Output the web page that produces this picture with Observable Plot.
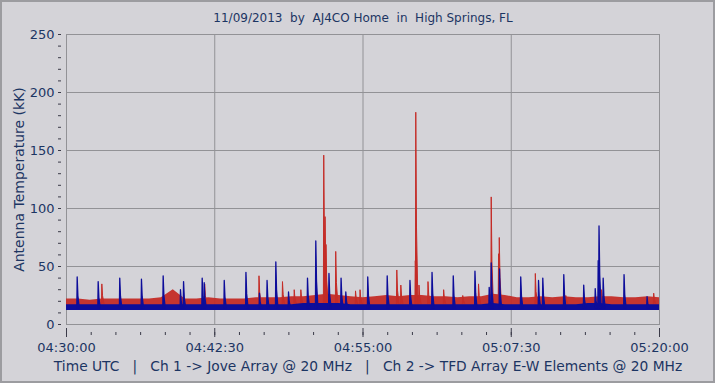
<!DOCTYPE html>
<html><head><meta charset="utf-8">
<script src="https://cdn.jsdelivr.net/npm/d3@7"></script>
<script src="https://cdn.jsdelivr.net/npm/@observablehq/plot@0.6"></script>
<style>
html,body{margin:0;padding:0;background:#d4d3d8;}
#wrap{position:relative;width:715px;height:383px;overflow:hidden;}
#border{position:absolute;left:0;top:0;width:715px;height:383px;box-sizing:border-box;border:2px solid #9c9ca0;pointer-events:none;}
svg{display:block;}
</style></head><body><div id="wrap"><div id="border"></div></div>
<script>
// ---- text ----
const title = "11/09/2013  by  AJ4CO Home  in  High Springs, FL";
const yTitle = "Antenna Temperature (kK)";
const caption = "Time UTC   |   Ch 1 -> Jove Array @ 20 MHz   |   Ch 2 -> TFD Array E-W Elements @ 20 MHz";

// ---- axes (x in minutes after 04:30:00 UTC) ----
const xMajor = [0, 12.5, 25, 37.5, 50];
const xLabels = ["04:30:00", "04:42:30", "04:55:00", "05:07:30", "05:20:00"];
const xMinor = d3.range(0, 50.001, 25 / 12);
const yMajor = [0, 50, 100, 150, 200, 250];
const yMinor = d3.range(0, 251, 10);

// ---- noise envelope, one sample per minute ----
const envT = d3.range(0, 51);
const redHi = [22,22,21,22,22,22,22,22, 23,30,22, 22,23,22,22,22,23,23,23,24,
               24,25,26,25,24,23,24,25,24,25, 25,24,24,23,24,24,26,25,23,23,
               24,23,24,23,23,24,24,23,23,24,23];
const redLo = envT.map(() => 15);
const blueHi = [17,17,17,17,17,17,17,17,17,17,17,17,17,17,17,17,17,17,17,17,
                18,18,18,18,17,17,17,17,17,17,17,17,17,17,17,17,18,17,17,17,
                17,17,17,17,18,18,17,17,17,17,17];
const blueLo = envT.map(() => 12);

// ---- bursts: Ch 1 (red) and Ch 2 (blue) ----
const redT = [2.98,11.65,16.23,18.21,19.20,19.76,21.69,21.80,21.88,22.70,24.37,24.75,27.85,28.19,
              29.41,29.45,29.72,30.48,31.80,33.41,34.74,35.81,36.43,36.49,39.53,42.10,45.11,49.51];
const redV = [35,35,42,37,30,30,146,93,69,63,29,30,47,34,55,183,34,37,30,25,35,110,61,75,44,25,30,27];
const blueT = [0.90,2.67,4.49,6.32,8.15,9.61,9.87,11.44,11.61,13.30,15.13,16.27,16.91,17.65,18.72,
               20.32,21.02,22.13,23.15,23.55,25.40,27.04,28.96,30.82,32.61,34.44,35.64,35.81,36.51,
               38.30,39.80,40.16,41.93,43.61,44.58,44.83,44.90,45.25,47.01,48.95];
const blueV = [41,37,40,39,42,30,37,40,36,38,45,27,38,54,28,40,72,44,40,28,41,42,38,45,42,46,32,53,48,
               41,38,40,43,34,31,55,85,40,43,24];

const RED = "#c42c27", BLUE = "#0d0d9a", NAVY = "#1c3563", GRID = "#929296", TICK = "#3a3a48";

const env = envT.map((t, i) => ({t, rlo: redLo[i], rhi: redHi[i], blo: blueLo[i], bhi: blueHi[i]}));
function spikes(T, V, base) {
  const rows = [];
  T.forEach((t, i) => {
    const v = V[i];
    rows.push({id: i, t: t - 0.03, v: base});
    rows.push({id: i, t: t, v: v});
    rows.push({id: i, t: t + 0.06, v: base + (v - base) * 0.4});
    rows.push({id: i, t: t + 0.18, v: base});
  });
  return rows;
}
const redS = spikes(redT, redV, 18);
const blueS = spikes(blueT, blueV, 14);

const chart = Plot.plot({
  width: 715, height: 383,
  marginTop: 34, marginBottom: 59, marginLeft: 66, marginRight: 56,
  style: {background: "#d4d3d8", fontFamily: "'DejaVu Sans', sans-serif", fontSize: "13px", color: NAVY, overflow: "visible"},
  x: {domain: [0, 50], label: null},
  y: {domain: [0, 250], label: null},
  marks: [
    Plot.gridY(yMajor.slice(1, -1), {stroke: GRID, strokeOpacity: 1}),
    Plot.gridX(xMajor.slice(1, -1), {stroke: GRID, strokeOpacity: 1}),
    Plot.frame({stroke: GRID}),
    Plot.areaY(env, {x: "t", y1: "rlo", y2: "rhi", fill: RED, fillOpacity: 0.95}),
    Plot.line(redS, {x: "t", y: "v", z: "id", stroke: RED, fill: RED, strokeWidth: 1}),
    Plot.areaY(env, {x: "t", y1: "blo", y2: "bhi", fill: BLUE}),
    Plot.line(blueS, {x: "t", y: "v", z: "id", stroke: BLUE, fill: BLUE, strokeWidth: 1.3}),
    // y axis
    Plot.axisY(yMinor, {tickSize: 3, dx: -5, tickFormat: () => "", stroke: TICK, label: null}),
    Plot.axisY(yMajor, {tickSize: 0, tickPadding: 12, fill: NAVY, fontSize: 13, label: null}),
    // x axis
    Plot.axisX(xMinor, {tickSize: 3, dy: 8, tickFormat: () => "", stroke: TICK, label: null}),
    Plot.axisX(xMajor, {tickSize: 9, dy: 4, tickFormat: () => "", stroke: TICK, label: null}),
    Plot.axisX(xMajor, {tickSize: 0, tickPadding: 18, tickFormat: d => xLabels[xMajor.indexOf(d)], fill: NAVY, fontSize: 13, label: null}),
    // texts
    Plot.text([title], {frameAnchor: "top", dy: -16, lineAnchor: "middle", fill: NAVY, fontSize: 12}),
    Plot.text([yTitle], {frameAnchor: "left", dx: -47, rotate: -90, textAnchor: "middle", lineAnchor: "middle", fill: NAVY, fontSize: 14}),
    Plot.text([caption], {frameAnchor: "bottom", dy: 42, dx: 5, lineAnchor: "middle", fill: NAVY, fontSize: 13.8})
  ]
});
document.getElementById("wrap").prepend(chart);
</script>
</body></html>
